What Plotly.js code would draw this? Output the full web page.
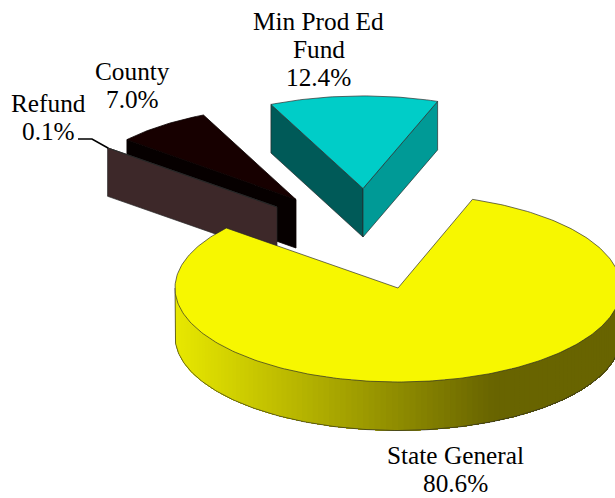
<!DOCTYPE html>
<html>
<head>
<meta charset="utf-8">
<script src="https://cdn.plot.ly/plotly-3.0.1.min.js"></script>
<style>html,body{margin:0;padding:0;background:#fff}</style>
</head>
<body>
<div id="chart" style="width:615px;height:498px"></div>
<script>
// Data
const names = ['State General', 'Refund', 'County', 'Min Prod Ed Fund'];
const shares = [80.6, 0.1, 7.0, 12.4];

// Label text: each line of a slice's label, then its percentage
const labelLines = [['State General'], ['Refund'], ['County'], ['Min Prod Ed', 'Fund']];
const labelX = [455.5, 48, 132, 318.5];
const labelLastLineY = [483, 131, 99, 76.5];
const lineGap = 28;

// Pie projection (the pixel frame of the axes)
const startAngle = 19.5;
const radiusX = 223, radiusY = 94, depth = 48.5;
const radiusScale = [1, 0.987, 0.99, 0.985];
const apexX = [398, 277, 296, 363];
const apexY = [288, 207, 199.5, 188.5];

// Styles
const topColors = ['#f7f700', '#3d2829', '#170000', '#00cdc8'];
const startWallColors = [null, '#3d2829', '#060000', '#005a58'];
const endWallColors = [null, null, null, '#009a96'];
const edges = ['rgba(40,40,40,0.85)', 'rgba(40,40,40,0.85)', '#0a0000', 'rgba(40,40,40,0.85)'];

const rad = d => d * Math.PI / 180;
const px = (i, a) => apexX[i] + radiusX * radiusScale[i] * Math.sin(rad(a));
const py = (i, a) => apexY[i] - radiusY * radiusScale[i] * Math.cos(rad(a));

const traces = [];
function poly(xs, ys, fill, line, w) {
  traces.push({type: 'scatter', mode: 'lines', x: xs, y: ys, fill: fill ? 'toself' : 'none',
    fillcolor: fill || undefined, line: {color: line, width: w}, hoverinfo: 'skip', showlegend: false});
}
function radialWall(i, a, color) {
  const x1 = px(i, a), y1 = py(i, a);
  poly([apexX[i], x1, x1, apexX[i], apexX[i]],
       [apexY[i], y1, y1 + depth, apexY[i] + depth, apexY[i]], color, edges[i], 0.8);
}
function wedge(i, a0, a1, color) {
  const xs = [apexX[i]], ys = [apexY[i]];
  const n = Math.max(2, Math.ceil((a1 - a0) / 1));
  for (let k = 0; k <= n; k++) {
    const a = a0 + (a1 - a0) * k / n;
    xs.push(px(i, a)); ys.push(py(i, a));
  }
  xs.push(apexX[i]); ys.push(apexY[i]);
  poly(xs, ys, color, edges[i], 0.8);
}

// Angular ranges from the shares
const starts = [], ends = [];
let cursor = startAngle;
shares.forEach((s, i) => { starts.push(cursor); cursor += s * 3.6; ends.push(cursor); });

// Yellow rim shade follows x
function rimColor(x) {
  const t = Math.min(1, Math.max(0, (x - 175) / (490 - 175)));
  const r = Math.round(232 + (104 - 232) * t);
  const g = Math.round(232 + (100 - 232) * t);
  return `rgb(${r},${g},0)`;
}

// Draw back to front
[2, 1, 3].forEach(i => {
  if (startWallColors[i]) radialWall(i, starts[i], startWallColors[i]);
  if (endWallColors[i]) radialWall(i, ends[i], endWallColors[i]);
  wedge(i, starts[i], ends[i], topColors[i]);
});

// Main slice rim: overlapping bands painted left to right, so no seams show
const step = 1.5;
for (let a = 270; a > 90; a -= step) {
  const xs = [], ys = [], back = [];
  for (let b = a; b >= 90; b -= step) {
    xs.push(px(0, b)); ys.push(py(0, b));
    back.push(b);
  }
  back.reverse().forEach(b => { xs.push(px(0, b)); ys.push(py(0, b) + depth); });
  xs.push(xs[0]); ys.push(ys[0]);
  traces.push({type: 'scatter', mode: 'none', x: xs, y: ys, fill: 'toself',
    fillcolor: rimColor(px(0, a)), hoverinfo: 'skip', showlegend: false});
}
const rimX = [], rimY = [];
rimX.push(px(0, 270)); rimY.push(py(0, 270));
for (let a = 270; a >= 90; a -= 1) { rimX.push(px(0, a)); rimY.push(py(0, a) + depth); }
rimX.push(px(0, 90)); rimY.push(py(0, 90));
poly(rimX, rimY, null, edges[0], 0.8);
wedge(0, starts[0], ends[0], topColors[0]);

// Leader line for the smallest slice
const leaderX = [78, 92, 108];
const leaderY = [139, 139, 148];
traces.push({type: 'scatter', mode: 'lines', x: leaderX, y: leaderY,
  line: {color: '#000', width: 1.6}, hoverinfo: 'skip', showlegend: false});

// Labels
const annotations = [];
const addLabel = (text, x, y) => annotations.push({text, x, y, xref: 'x', yref: 'y',
  xanchor: 'center', yanchor: 'middle', showarrow: false,
  font: {family: '"Liberation Serif", serif', size: 25.3, color: '#000'}});
labelLines.forEach((lines, i) => {
  const pct = shares[i].toFixed(1) + '%';
  const all = lines.concat([pct]);
  all.forEach((t, k) => addLabel(t, labelX[i], labelLastLineY[i] - (all.length - 1 - k) * lineGap));
});

Plotly.newPlot('chart', traces, {
  width: 615, height: 498, margin: {l: 0, r: 0, t: 0, b: 0},
  paper_bgcolor: '#fff', plot_bgcolor: '#fff', showlegend: false,
  xaxis: {range: [0, 615], visible: false, fixedrange: true},
  yaxis: {range: [498, 0], visible: false, fixedrange: true},
  annotations
}, {displayModeBar: false, staticPlot: true});
</script>
</body>
</html>
